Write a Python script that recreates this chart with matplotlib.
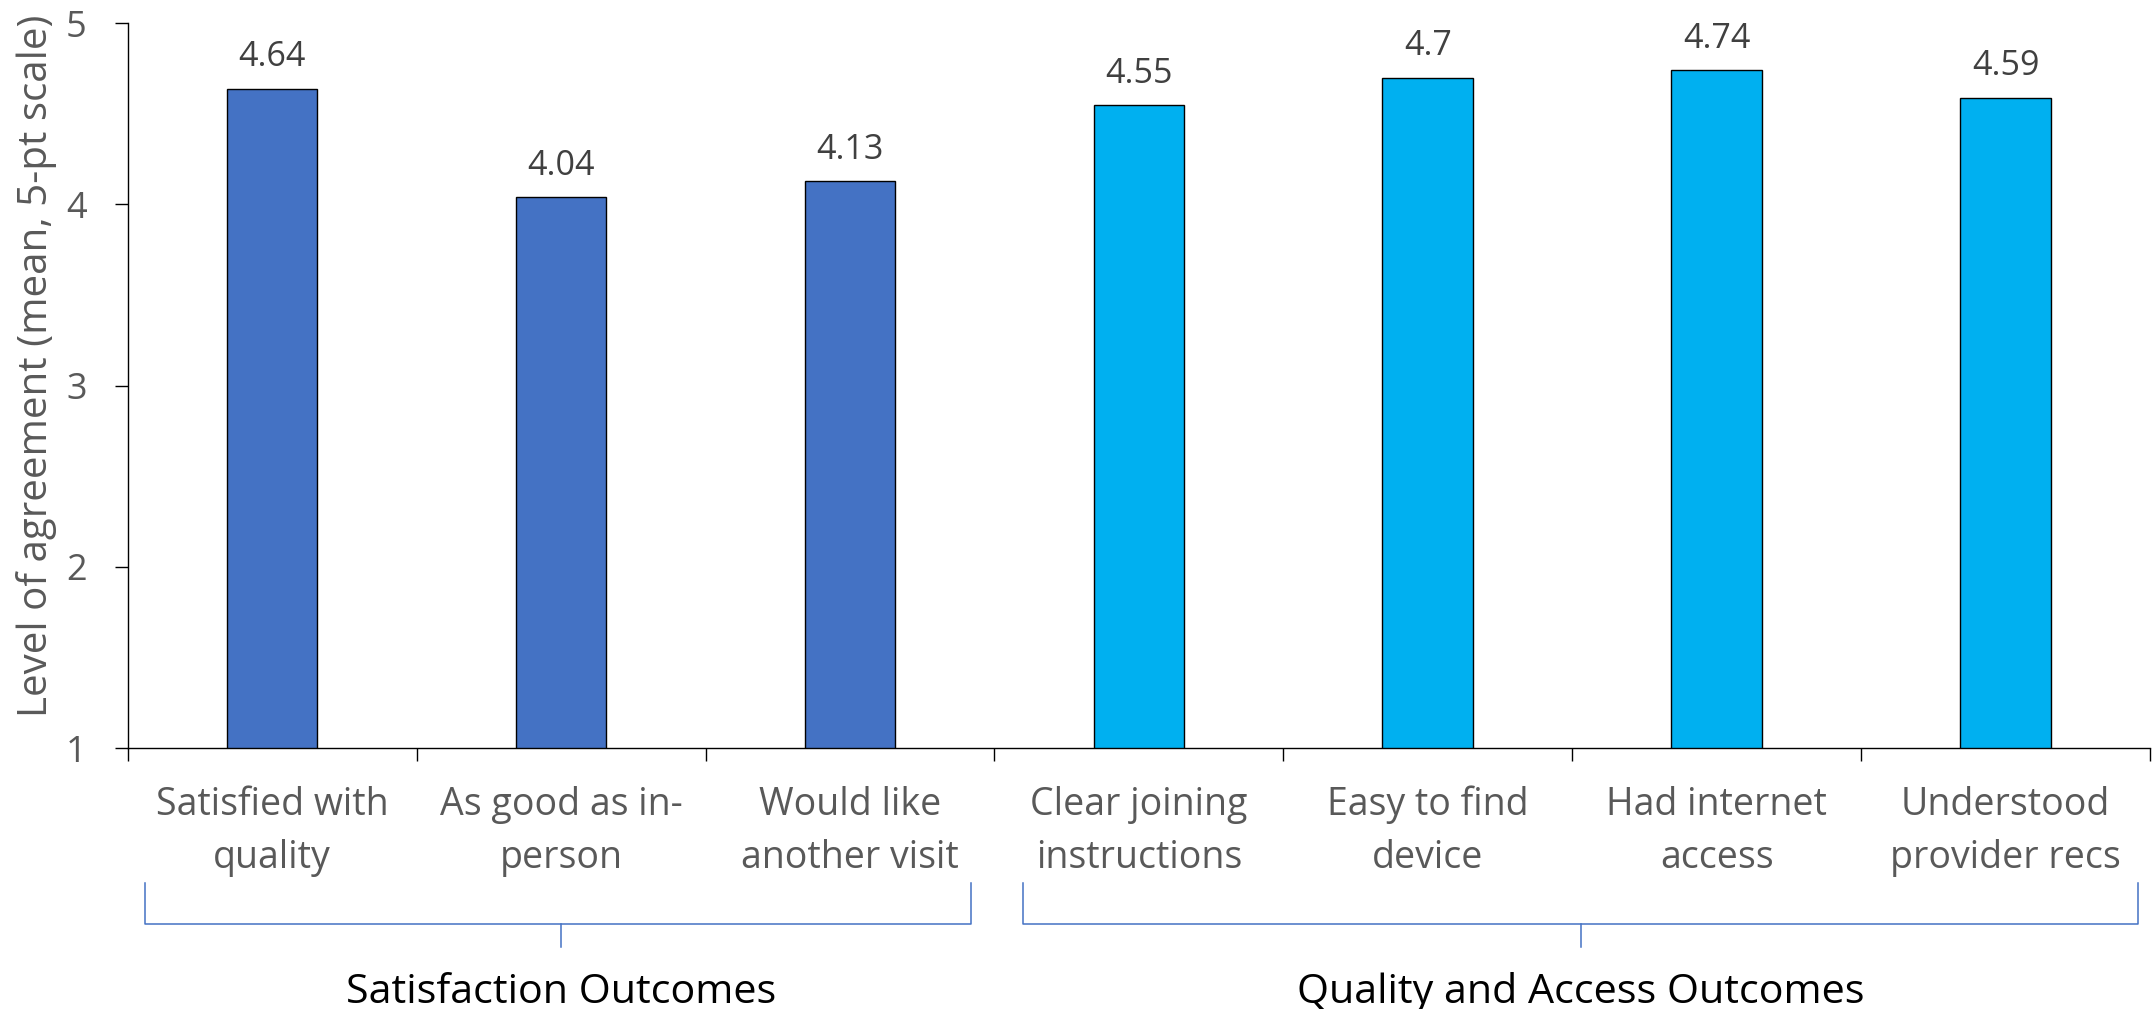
import matplotlib
matplotlib.use("Agg")
import matplotlib.pyplot as plt
from matplotlib.transforms import blended_transform_factory

# ---- data -------------------------------------------------------------
categories = [
    "Satisfied with\nquality",
    "As good as in-\nperson",
    "Would like\nanother visit",
    "Clear joining\ninstructions",
    "Easy to find\ndevice",
    "Had internet\naccess",
    "Understood\nprovider recs",
]
values = [4.64, 4.04, 4.13, 4.55, 4.7, 4.74, 4.59]
group_names = ["Satisfaction Outcomes", "Quality and Access Outcomes"]
group_sizes = [3, 4]
group_colors = ["#4472C4", "#00B0F0"]
y_ticks = [1, 2, 3, 4, 5]
y_label = "Level of agreement (mean, 5-pt scale)"

# ---- style ------------------------------------------------------------
plt.rcParams["font.family"] = ["Open Sans", "DejaVu Sans"]
W, H = 2153, 1009
LABEL_GREY = "#595959"
VALUE_GREY = "#404040"
BRACKET_BLUE = "#4472C4"

def fy(px):
    """Figure fraction from a pixel row measured from the top."""
    return 1 - px / H

fig = plt.figure(figsize=(W / 100, H / 100), dpi=100)
ax = fig.add_axes([127.7 / W, fy(748), (2150 - 127.7) / W, (748 - 23.3) / H])

# bar colours follow the group each category belongs to
bar_colors = []
for color, n in zip(group_colors, group_sizes):
    bar_colors += [color] * n

x = list(range(len(categories)))
bars = ax.bar(x, values, width=0.3135, color=bar_colors,
              edgecolor="black", linewidth=1.0, zorder=2)

# value labels above bars
for xi, v in zip(x, values):
    ax.annotate(f"{v:g}", xy=(xi, v), xytext=(0, 16), textcoords="offset points",
                ha="center", va="baseline", fontsize=24.5, color=VALUE_GREY)

# axes
ax.set_xlim(-0.5, len(categories) - 0.5)
ax.set_ylim(y_ticks[0], y_ticks[-1])
ax.set_yticks(y_ticks)
ax.set_xticks([i - 0.5 for i in range(len(categories) + 1)])
ax.set_xticklabels([])
for side in ("top", "right"):
    ax.spines[side].set_visible(False)
for side in ("left", "bottom"):
    ax.spines[side].set_linewidth(1.0)
    ax.spines[side].set_color("black")
ax.tick_params(axis="both", direction="out", length=9.4, width=1.0, color="black")
ax.tick_params(axis="y", labelsize=26, labelcolor=LABEL_GREY, pad=20)

ax.set_ylabel(y_label, fontsize=29, color=LABEL_GREY, va="center")
ax.yaxis.set_label_coords((37 - 127.7) / (2150 - 127.7), (748 - 366) / (748 - 23.3))

# category labels, one text per line
trans = blended_transform_factory(ax.transData, fig.transFigure)
baselines = [815, 868]
for xi, label in zip(x, categories):
    for line, base in zip(label.split("\n"), baselines):
        ax.text(xi, fy(base), line, transform=trans, ha="center", va="baseline",
                fontsize=27, color=LABEL_GREY, clip_on=False)

# group brackets and names
brackets = [(-0.44, 2.42, 1.0), (2.60, 6.46, 4.53)]
top, bottom, tick_end = fy(883), fy(924), fy(947)
for (x0, x1, xm), name in zip(brackets, group_names):
    ax.plot([x0, x0, x1, x1], [top, bottom, bottom, top], transform=trans,
            color=BRACKET_BLUE, linewidth=1.1, clip_on=False, solid_joinstyle="round")
    ax.plot([xm, xm], [bottom, tick_end], transform=trans,
            color=BRACKET_BLUE, linewidth=1.1, clip_on=False)
    ax.text(xm, fy(1003), name, transform=trans, ha="center", va="baseline",
            fontsize=29.7, color="black", clip_on=False)

fig.savefig("out.png", dpi=100)
